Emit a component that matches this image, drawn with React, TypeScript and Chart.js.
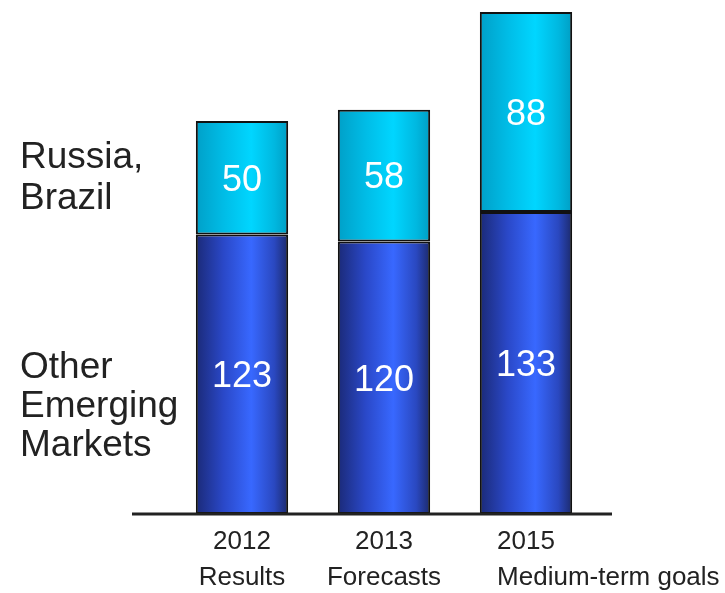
import React, { useEffect, useRef } from "react";
import { Chart, registerables } from "chart.js";

Chart.register(...registerables);

const categories = [["2012", "Results"], ["2013", "Forecasts"], ["2015", "Medium-term goals"]];
const otherEmerging = [123, 120, 133];
const russiaBrazil = [50, 58, 88];
const seriesLabels = [["Other", "Emerging", "Markets"], ["Russia,", "Brazil"]];

const FONT = "'Liberation Sans', Arial, sans-serif";

export default function App() {
  const ref = useRef<HTMLCanvasElement | null>(null);
  useEffect(() => {
    const canvas = ref.current!;
    const BAR_PCT = 0.65;
    const grad = (stops: [number, string][]) => (ctx: any) => {
      const chart = ctx.chart;
      const xs = chart.scales?.x;
      const area = chart.chartArea;
      if (!xs || !area) return stops[1][1];
      const cw = area.width / categories.length;
      const hw = (cw * BAR_PCT) / 2;
      const cx = xs.getPixelForValue(ctx.dataIndex);
      if (!isFinite(cx)) return stops[1][1];
      const g = chart.ctx.createLinearGradient(cx - hw, 0, cx + hw, 0);
      stops.forEach(([o, c]) => g.addColorStop(o, c));
      return g;
    };
    const darkStops: [number, string][] = [
      [0, "#1b2a78"],
      [0.3, "#2a48c8"],
      [0.6, "#3868ff"],
      [0.85, "#2a48c0"],
      [1, "#1c2a6c"],
    ];
    const lightStops: [number, string][] = [
      [0, "#00a0c8"],
      [0.3, "#00bce6"],
      [0.6, "#00d6ff"],
      [0.85, "#00b8e0"],
      [1, "#009ec4"],
    ];

    const overlay = {
      id: "overlay",
      afterDatasetsDraw(chart: any) {
        const c = chart.ctx;
        const area = chart.chartArea;
        c.save();
        // baseline axis
        c.strokeStyle = "#222";
        c.lineWidth = 3;
        c.beginPath();
        c.moveTo(area.left - 39, area.bottom);
        c.lineTo(area.right + 15, area.bottom);
        c.stroke();
        // value labels
        c.fillStyle = "#ffffff";
        c.font = `36px ${FONT}`;
        c.textAlign = "center";
        c.textBaseline = "middle";
        chart.data.datasets.forEach((ds: any, di: number) => {
          const meta = chart.getDatasetMeta(di);
          meta.data.forEach((el: any, i: number) => {
            const p = el.getProps(["x", "y", "base"], true);
            c.fillText(String(ds.data[i]), p.x, (p.y + p.base) / 2 + 3);
          });
        });
        // x category labels
        const xs = chart.scales.x;
        const cw = area.width / categories.length;
        c.fillStyle = "#222";
        c.font = `26px ${FONT}`;
        c.textBaseline = "middle";
        categories.forEach((lines, i) => {
          const cx = xs.getPixelForValue(i);
          const firstW = c.measureText(lines[0]).width;
          const firstLeft = cx - firstW / 2;
          lines.forEach((t, li) => {
            const w = c.measureText(t).width;
            const y = area.bottom + 28 + li * 36;
            if (w > cw) {
              c.textAlign = "left";
              c.fillText(t, firstLeft, y);
            } else {
              c.textAlign = "center";
              c.fillText(t, cx, y);
            }
          });
        });
        // series labels on left
        c.fillStyle = "#222";
        c.font = `37px ${FONT}`;
        c.textAlign = "left";
        const ys = chart.scales.y;
        const draw = (lines: string[], centerY: number, lh: number) => {
          const start = centerY - ((lines.length - 1) * lh) / 2;
          lines.forEach((t, li) => c.fillText(t, 20, start + li * lh));
        };
        draw(seriesLabels[1], ys.getPixelForValue(otherEmerging[0] + russiaBrazil[0] / 2), 41);
        draw(seriesLabels[0], area.bottom - 107, 39);
        c.restore();
      },
    };

    const chart = new Chart(canvas, {
      type: "bar",
      data: {
        labels: categories.map((c) => c.join(" ")),
        datasets: [
          {
            label: "Other Emerging Markets",
            data: otherEmerging,
            backgroundColor: grad(darkStops),
            borderColor: "#111",
            borderWidth: 2,
            borderSkipped: false,
            barPercentage: BAR_PCT,
            categoryPercentage: 1,
          },
          {
            label: "Russia, Brazil",
            data: russiaBrazil,
            backgroundColor: grad(lightStops),
            borderColor: "#111",
            borderWidth: 2,
            borderSkipped: false,
            barPercentage: BAR_PCT,
            categoryPercentage: 1,
          },
        ],
      },
      options: {
        responsive: false,
        animation: false,
        layout: { padding: { left: 171, right: 128, top: 12, bottom: 79 } },
        plugins: { legend: { display: false }, tooltip: { enabled: false } },
        scales: {
          x: { stacked: true, display: false },
          y: { stacked: true, display: false, min: 0, max: 221 },
        },
      },
      plugins: [overlay],
    });
    return () => chart.destroy();
  }, []);
  return (
    <canvas
      ref={ref}
      width={725}
      height={593}
      style={{ position: "fixed", left: 0, top: 0, width: 725, height: 593 }}
    />
  );
}
